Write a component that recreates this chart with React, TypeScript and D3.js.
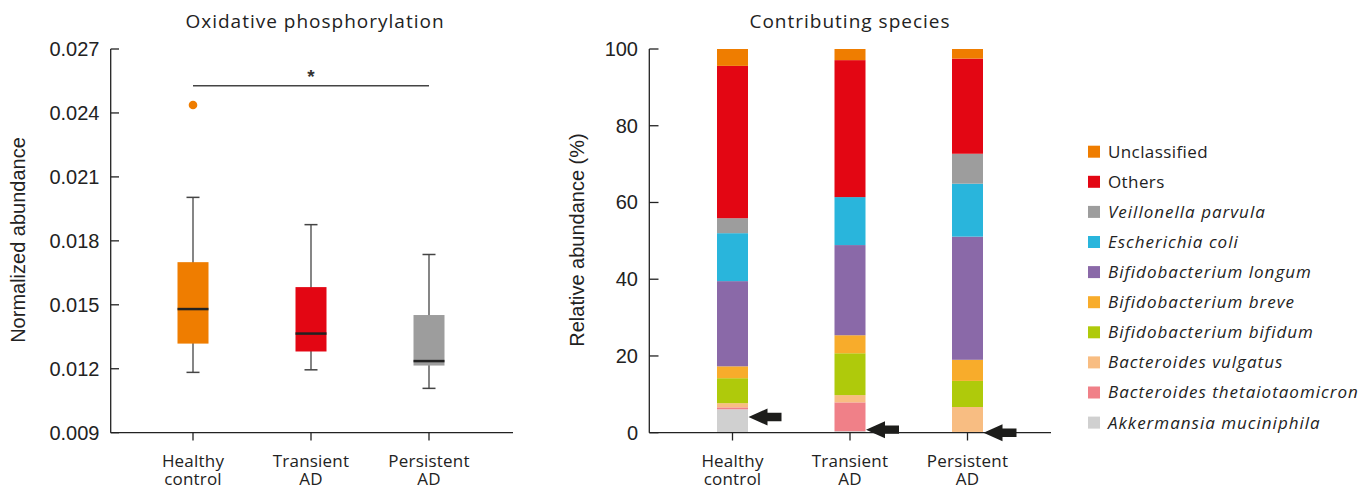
import React from 'react';
import * as d3 from 'd3';

// box plot: Oxidative phosphorylation
const groups = ['Healthy control', 'Transient AD', 'Persistent AD'];
const groupLines = [['Healthy', 'control'], ['Transient', 'AD'], ['Persistent', 'AD']];
const whiskerLow = [0.01183, 0.01195, 0.01108];
const q1 = [0.01318, 0.01281, 0.01215];
const median = [0.0148, 0.01365, 0.01236];
const q3 = [0.0170, 0.01583, 0.01452];
const whiskerHigh = [0.02004, 0.01876, 0.01736];
const outliers = [{ group: 'Healthy control', value: 0.02437 }];
const boxColors = ['#EF7D00', '#E30613', '#9D9D9D'];
const leftTicks = [0.009, 0.012, 0.015, 0.018, 0.021, 0.024, 0.027];

// stacked bars: contributing species (bottom to top)
const speciesKeys = [
  'Akkermansia muciniphila',
  'Bacteroides thetaiotaomicron',
  'Bacteroides vulgatus',
  'Bifidobacterium bifidum',
  'Bifidobacterium breve',
  'Bifidobacterium longum',
  'Escherichia coli',
  'Veillonella parvula',
  'Others',
  'Unclassified',
];
const akkermansia = [6.1, 0.4, 0.1];
const thetaiotaomicron = [0.5, 7.5, 0.1];
const vulgatus = [1.1, 1.9, 6.5];
const bifidum = [6.5, 10.9, 6.8];
const breve = [3.1, 4.7, 5.5];
const longum = [22.2, 23.5, 32.1];
const ecoli = [12.5, 12.5, 13.8];
const veillonella = [3.9, 0, 7.8];
const others = [39.7, 35.7, 24.8];
const unclassified = [4.4, 2.9, 2.5];
const speciesColors = ['#D0D0D0', '#F08088', '#F8BD82', '#AFCA0B', '#F8AC2B', '#8A69A8', '#29B5DC', '#9D9D9D', '#E30613', '#EF7D00'];
const arrowValues = [4.1, 0.8, 0];
const rightTicks = [0, 20, 40, 60, 80, 100];

const tickFont = '"Liberation Sans", Arial, sans-serif';
const labelFont = '"Open Sans", sans-serif';

export default function App() {
  // left chart scales
  const xL = d3.scalePoint<string>().domain(groups).range([193, 429]);
  const yL = d3.scaleLinear().domain([0.009, 0.027]).range([432.7, 49]);
  const boxW = 31;
  const capW = 13;

  // right chart scales
  const xR = d3.scalePoint<string>().domain(groups).range([732.5, 967.5]);
  const yR = d3.scaleLinear().domain([0, 100]).range([432.7, 49]);
  const barW = 31;

  const cols = [akkermansia, thetaiotaomicron, vulgatus, bifidum, breve, longum, ecoli, veillonella, others, unclassified];
  const table = groups.map((g, i) => {
    const row: Record<string, any> = { group: g };
    speciesKeys.forEach((k, j) => (row[k] = cols[j][i]));
    return row;
  });
  const series = d3.stack<any>().keys(speciesKeys)(table);

  const legendKeys = speciesKeys.slice().reverse();
  const legendColors = speciesColors.slice().reverse();

  const arrow = (tx: number, ty: number) => {
    const p = d3.path();
    p.moveTo(tx, ty);
    p.lineTo(tx + 19, ty - 8.5);
    p.lineTo(tx + 19, ty - 4.2);
    p.lineTo(tx + 33, ty - 4.2);
    p.lineTo(tx + 33, ty + 4.2);
    p.lineTo(tx + 19, ty + 4.2);
    p.lineTo(tx + 19, ty + 8.5);
    p.closePath();
    return p.toString();
  };

  const groupLabel = (x: number, i: number) => (
    <text textAnchor="middle" fontFamily={labelFont} fontSize={17} fill="#222" letterSpacing={0.2}>
      {groupLines[i].map((s, k) => (
        <tspan key={k} x={x} y={466.7 + k * 18.5}>{s}</tspan>
      ))}
    </text>
  );

  return (
    <svg width={1372} height={493} style={{ position: 'absolute', left: 0, top: 0, background: '#fff' }}>
      {/* ---------- left chart ---------- */}
      <text x={315} y={28} textAnchor="middle" fontFamily={labelFont} fontSize={19} letterSpacing={1} fill="#222">
        Oxidative phosphorylation
      </text>
      <text transform="translate(25,240) rotate(-90)" textAnchor="middle" fontFamily={tickFont} fontSize={20} fill="#222">
        Normalized abundance
      </text>
      <line x1={110.7} x2={110.7} y1={yL(0.027)} y2={432.7} stroke="#222" strokeWidth={1.3} />
      <line x1={110.7} x2={513} y1={432.7} y2={432.7} stroke="#222" strokeWidth={1.3} />
      {leftTicks.map(t => (
        <g key={t}>
          <line x1={110.7} x2={119} y1={yL(t)} y2={yL(t)} stroke="#222" strokeWidth={1.3} />
          <text x={99.5} y={yL(t)} dy="0.35em" textAnchor="end" fontFamily={tickFont} fontSize={20} fill="#222">
            {d3.format('.3f')(t)}
          </text>
        </g>
      ))}
      {groups.map((g, i) => (
        <g key={g}>
          <line x1={xL(g)} x2={xL(g)} y1={432.7} y2={440.5} stroke="#222" strokeWidth={1.3} />
          {groupLabel(xL(g)!, i)}
          <line x1={xL(g)} x2={xL(g)} y1={yL(whiskerHigh[i])} y2={yL(whiskerLow[i])} stroke="#444" strokeWidth={1.3} />
          <line x1={xL(g)! - capW / 2} x2={xL(g)! + capW / 2} y1={yL(whiskerHigh[i])} y2={yL(whiskerHigh[i])} stroke="#444" strokeWidth={1.5} />
          <line x1={xL(g)! - capW / 2} x2={xL(g)! + capW / 2} y1={yL(whiskerLow[i])} y2={yL(whiskerLow[i])} stroke="#444" strokeWidth={1.5} />
          <rect x={xL(g)! - boxW / 2} y={yL(q3[i])} width={boxW} height={yL(q1[i]) - yL(q3[i])} fill={boxColors[i]} />
          <line x1={xL(g)! - boxW / 2} x2={xL(g)! + boxW / 2} y1={yL(median[i])} y2={yL(median[i])} stroke="#222" strokeWidth={2.5} />
        </g>
      ))}
      {outliers.map((o, i) => (
        <circle key={i} cx={xL(o.group)} cy={yL(o.value)} r={4.3} fill={boxColors[groups.indexOf(o.group)]} />
      ))}
      <line x1={xL(groups[0])} x2={xL(groups[2])} y1={85.7} y2={85.7} stroke="#444" strokeWidth={1.4} />
      <text x={xL(groups[1])} y={83} textAnchor="middle" fontFamily={tickFont} fontSize={19} fontWeight="bold" fill="#333">*</text>

      {/* ---------- right chart ---------- */}
      <text x={850} y={28} textAnchor="middle" fontFamily={labelFont} fontSize={19} letterSpacing={1} fill="#222">
        Contributing species
      </text>
      <text transform="translate(584,240) rotate(-90)" textAnchor="middle" fontFamily={tickFont} fontSize={20} fill="#222">
        Relative abundance (%)
      </text>
      {series.map((s, j) => (
        <g key={s.key} fill={speciesColors[j]}>
          {s.map((d, i) => (
            <rect key={i} x={xR(groups[i])! - barW / 2} y={yR(d[1])} width={barW} height={Math.max(0, yR(d[0]) - yR(d[1]))} />
          ))}
        </g>
      ))}
      <line x1={649.3} x2={649.3} y1={yR(100)} y2={432.7} stroke="#222" strokeWidth={1.3} />
      <line x1={649.3} x2={1051} y1={432.7} y2={432.7} stroke="#222" strokeWidth={1.3} />
      {rightTicks.map(t => (
        <g key={t}>
          <line x1={649.3} x2={658.5} y1={yR(t)} y2={yR(t)} stroke="#222" strokeWidth={1.3} />
          <text x={638} y={yR(t)} dy="0.35em" textAnchor="end" fontFamily={tickFont} fontSize={20} fill="#222">
            {t}
          </text>
        </g>
      ))}
      {groups.map((g, i) => (
        <g key={g}>
          <line x1={xR(g)} x2={xR(g)} y1={432.7} y2={440.5} stroke="#222" strokeWidth={1.3} />
          {groupLabel(xR(g)!, i)}
          <path d={arrow(xR(g)! + barW / 2 + 0.5, yR(arrowValues[i]))} fill="#1D1D1B" />
        </g>
      ))}

      {/* legend */}
      {legendKeys.map((k, i) => (
        <g key={k} transform={`translate(1088,${151.7 + i * 30.1})`}>
          <rect x={0} y={-6} width={12} height={12} fill={legendColors[i]} />
          <text x={20} y={0} dy="0.35em" fontFamily={labelFont} fontSize={17} fill="#222"
            fontStyle={i < 2 ? 'normal' : 'italic'} letterSpacing={i < 2 ? 0.4 : 1}>
            {k}
          </text>
        </g>
      ))}
    </svg>
  );
}
